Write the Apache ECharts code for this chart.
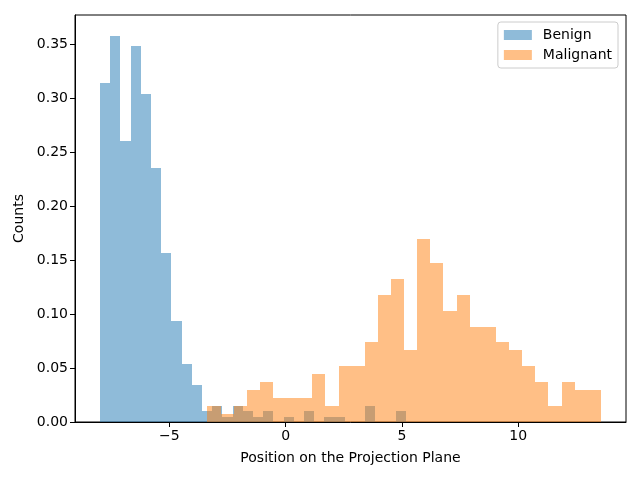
<!DOCTYPE html>
<html>
<head>
<meta charset="utf-8">
<script src="https://cdn.jsdelivr.net/npm/echarts@6/dist/echarts.min.js"></script>
<style>
  html, body { margin: 0; padding: 0; background: #fff; }
  #chart { width: 640px; height: 480px; }
</style>
</head>
<body>
<div id="chart"></div>
<script>
// histogram bins (30 each)
const benignRange = [-7.98, 5.18];
const benignDensity = [
  0.3136, 0.3577, 0.2597, 0.3479, 0.3038, 0.2352, 0.1568, 0.0931, 0.0539, 0.0343,
  0.0098, 0.0147, 0.0049, 0.0147, 0.0098, 0.0049, 0.0098, 0, 0.0049, 0,
  0.0098, 0, 0.0049, 0.0049, 0, 0, 0.0147, 0, 0, 0.0098
];
const malignantRange = [-3.36, 13.55];
const malignantDensity = [
  0.0147, 0.0074, 0.0147, 0.0295, 0.0368, 0.0221, 0.0221, 0.0221, 0.0442, 0.0147,
  0.0516, 0.0516, 0.0737, 0.1179, 0.1326, 0.0663, 0.1695, 0.1474, 0.1032, 0.1179,
  0.0884, 0.0884, 0.0737, 0.0663, 0.0516, 0.0368, 0.0147, 0.0368, 0.0295, 0.0295
];
const xTicks = [-5, 0, 5, 10];
const yTicks = [0, 0.05, 0.1, 0.15, 0.2, 0.25, 0.3, 0.35];

const FONT = 'DejaVu Sans';

// turn densities into [left, right, height] per bin
function toBins(range, dens) {
  const w = (range[1] - range[0]) / dens.length;
  return dens.map((d, i) => [range[0] + i * w, range[0] + (i + 1) * w, d]);
}

function renderBar(params, api) {
  const h = api.value(2);
  if (!h) return null;
  const p0 = api.coord([api.value(0), h]);
  const p1 = api.coord([api.value(1), 0]);
  // snap to whole pixels so neighbouring bars don't leave seams
  const x0 = Math.round(p0[0]), x1 = Math.round(p1[0]);
  const y0 = Math.round(p0[1]), y1 = Math.round(p1[1]);
  return {
    type: 'rect',
    shape: { x: x0, y: y0, width: x1 - x0, height: y1 - y0 },
    style: { fill: api.visual('color') }
  };
}

const chart = echarts.init(document.getElementById('chart'), null, { renderer: 'canvas' });

const option = {
  animation: false,
  backgroundColor: '#ffffff',
  textStyle: { fontFamily: FONT },
  grid: {
    left: 75, right: 14, top: 15, bottom: 58,
    show: true, borderColor: '#000', borderWidth: 1, backgroundColor: 'transparent'
  },
  legend: {
    orient: 'vertical',
    right: 22,
    top: 22,
    padding: [6, 6, 6, 6],
    itemGap: 6,
    itemWidth: 28,
    itemHeight: 10,
    borderColor: '#cccccc',
    borderWidth: 1,
    borderRadius: 3,
    backgroundColor: 'rgba(255,255,255,0.8)',
    textStyle: { fontFamily: FONT, fontSize: 14, color: '#000', padding: [0, 0, 0, 6] },
    data: [
      { name: 'Benign', icon: 'rect' },
      { name: 'Malignant', icon: 'rect' }
    ]
  },
  xAxis: {
    type: 'value',
    min: -9.05,
    max: 14.63,
    name: 'Position on the Projection Plane',
    nameLocation: 'middle',
    nameGap: 29,
    nameTextStyle: { fontFamily: FONT, fontSize: 14, color: '#000' },
    splitLine: { show: false },
    axisLine: { show: true, onZero: false, lineStyle: { color: '#000', width: 1 } },
    axisTick: { show: true, inside: false, length: 5, lineStyle: { color: '#000' }, customValues: xTicks },
    axisLabel: {
      fontFamily: FONT, fontSize: 14, color: '#000', margin: 7,
      customValues: xTicks,
      formatter: v => (v < 0 ? '\u2212' + Math.abs(v) : String(v))
    }
  },
  yAxis: {
    type: 'value',
    min: 0,
    max: 0.3768,
    name: 'Counts',
    nameLocation: 'middle',
    nameGap: 42,
    nameTextStyle: { fontFamily: FONT, fontSize: 14, color: '#000' },
    splitLine: { show: false },
    axisLine: { show: true, onZero: false, lineStyle: { color: '#000', width: 1 } },
    axisTick: { show: true, inside: false, length: 5, lineStyle: { color: '#000' }, customValues: yTicks },
    axisLabel: {
      fontFamily: FONT, fontSize: 14, color: '#000', margin: 7,
      customValues: yTicks,
      formatter: v => v.toFixed(2)
    }
  },
  series: [
    {
      name: 'Benign',
      type: 'custom',
      renderItem: renderBar,
      clip: true,
      itemStyle: { color: 'rgba(31,119,180,0.5)' },
      encode: { x: [0, 1], y: 2 },
      data: toBins(benignRange, benignDensity)
    },
    {
      name: 'Malignant',
      type: 'custom',
      renderItem: renderBar,
      clip: true,
      itemStyle: { color: 'rgba(255,127,14,0.5)' },
      encode: { x: [0, 1], y: 2 },
      data: toBins(malignantRange, malignantDensity)
    }
  ]
};

chart.setOption(option);
</script>
</body>
</html>
